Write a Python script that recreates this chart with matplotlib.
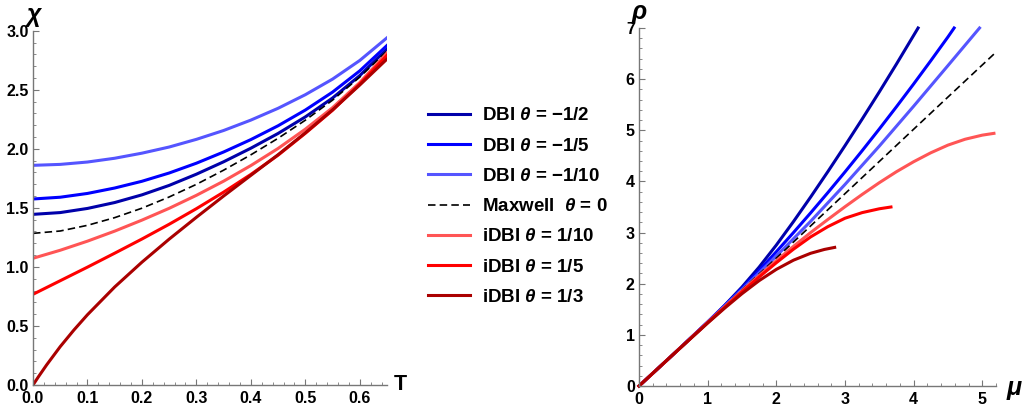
import matplotlib
matplotlib.use("Agg")
import matplotlib.pyplot as plt
from matplotlib.ticker import MultipleLocator

plt.rcParams['font.family'] = ['Liberation Sans', 'DejaVu Sans']
plt.rcParams['font.weight'] = 'bold'
plt.rcParams['mathtext.fontset'] = 'custom'
plt.rcParams['mathtext.it'] = 'Liberation Sans:italic:bold'
plt.rcParams['mathtext.rm'] = 'Liberation Sans:bold'
plt.rcParams['mathtext.bf'] = 'Liberation Sans:bold'

# ---- left panel: chi(T) ----
T = [0.0, 0.05, 0.1, 0.15, 0.2, 0.25, 0.3, 0.35, 0.4, 0.45, 0.5, 0.55, 0.6, 0.65]
chi_dbi_m2 = [1.445, 1.460, 1.495, 1.545, 1.610, 1.690, 1.785, 1.890, 2.005, 2.130, 2.270, 2.430, 2.620, 2.845]
chi_dbi_m5 = [1.575, 1.590, 1.622, 1.668, 1.725, 1.795, 1.878, 1.973, 2.078, 2.195, 2.328, 2.480, 2.660, 2.875]
chi_dbi_m10 = [1.860, 1.868, 1.888, 1.920, 1.963, 2.015, 2.080, 2.155, 2.243, 2.343, 2.458, 2.590, 2.748, 2.940]
chi_maxwell = [1.284, 1.304, 1.352, 1.417, 1.497, 1.592, 1.699, 1.819, 1.949, 2.089, 2.242, 2.412, 2.607, 2.829]
chi_idbi_10 = [1.073, 1.141, 1.218, 1.303, 1.396, 1.496, 1.606, 1.726, 1.858, 2.003, 2.166, 2.348, 2.561, 2.811]
chi_idbi_5 = [0.768, 0.883, 0.998, 1.116, 1.236, 1.361, 1.493, 1.633, 1.783, 1.946, 2.131, 2.326, 2.548, 2.791]
T_idbi_3 = [0.0, 0.01, 0.025, 0.05, 0.075, 0.1, 0.15, 0.2, 0.25, 0.3, 0.35, 0.4, 0.45, 0.5, 0.55, 0.6, 0.65]
chi_idbi_3 = [0.0, 0.07, 0.17, 0.325, 0.465, 0.595, 0.83, 1.04, 1.235, 1.42, 1.60, 1.775, 1.95, 2.135, 2.33, 2.54, 2.76]

# ---- right panel: rho(mu) ----
mu_dbi_m2 = [0, 0.5, 1.0, 1.25, 1.5, 1.75, 2.0, 2.25, 2.5, 2.75, 3.0, 3.25, 3.5, 3.75, 4.065]
rho_dbi_m2 = [0, 0.62, 1.25, 1.58, 1.935, 2.325, 2.755, 3.215, 3.695, 4.19, 4.698, 5.218, 5.75, 6.295, 7.0]
mu_dbi_m5 = [0, 0.5, 1.0, 1.25, 1.5, 1.75, 2.0, 2.25, 2.5, 2.75, 3.0, 3.25, 3.5, 3.75, 4.0, 4.25, 4.5, 4.59]
rho_dbi_m5 = [0, 0.62, 1.25, 1.575, 1.91, 2.26, 2.625, 3.0, 3.385, 3.78, 4.185, 4.6, 5.025, 5.46, 5.905, 6.36, 6.825, 7.0]
mu_dbi_m10 = [0, 0.5, 1.0, 1.5, 2.0, 2.5, 3.0, 3.5, 4.0, 4.5, 4.96]
rho_dbi_m10 = [0, 0.62, 1.25, 1.885, 2.54, 3.22, 3.94, 4.69, 5.47, 6.265, 7.0]
mu_maxwell = [0, 0.5, 1.0, 1.5, 2.0, 2.5, 3.0, 3.5, 4.0, 4.5, 5.17]
rho_maxwell = [0, 0.62, 1.25, 1.88, 2.50, 3.13, 3.76, 4.39, 5.02, 5.65, 6.49]
mu_idbi_10 = [0, 0.5, 1.0, 1.5, 1.75, 2.0, 2.25, 2.5, 2.75, 3.0, 3.25, 3.5, 3.75, 4.0, 4.25, 4.5, 4.75, 5.0, 5.17]
rho_idbi_10 = [0, 0.62, 1.24, 1.86, 2.16, 2.45, 2.73, 3.0, 3.255, 3.505, 3.745, 3.975, 4.19, 4.385, 4.56, 4.71, 4.825, 4.905, 4.94]
mu_idbi_5 = [0, 0.5, 1.0, 1.5, 1.75, 2.0, 2.25, 2.5, 2.75, 3.0, 3.25, 3.5, 3.67]
rho_idbi_5 = [0, 0.62, 1.24, 1.84, 2.13, 2.41, 2.675, 2.915, 3.115, 3.28, 3.39, 3.465, 3.50]
mu_idbi_3 = [0, 0.5, 1.0, 1.25, 1.5, 1.75, 2.0, 2.25, 2.5, 2.7, 2.85]
rho_idbi_3 = [0, 0.62, 1.23, 1.525, 1.805, 2.06, 2.28, 2.46, 2.595, 2.67, 2.71]

labels = ['DBI $\\theta$ = \u22121/2', 'DBI $\\theta$ = \u22121/5', 'DBI $\\theta$ = \u22121/10',
          'Maxwell  $\\theta$ = 0', 'iDBI $\\theta$ = 1/10', 'iDBI $\\theta$ = 1/5', 'iDBI $\\theta$ = 1/3']
colors = ['#0000AA', '#0000FF', '#5555FF', 'black', '#FF5555', '#FF0000', '#AA0000']

left = [(T, chi_dbi_m2), (T, chi_dbi_m5), (T, chi_dbi_m10), (T, chi_maxwell),
        (T, chi_idbi_10), (T, chi_idbi_5), (T_idbi_3, chi_idbi_3)]
right = [(mu_dbi_m2, rho_dbi_m2), (mu_dbi_m5, rho_dbi_m5), (mu_dbi_m10, rho_dbi_m10),
         (mu_maxwell, rho_maxwell), (mu_idbi_10, rho_idbi_10), (mu_idbi_5, rho_idbi_5),
         (mu_idbi_3, rho_idbi_3)]

fig = plt.figure(figsize=(10.25, 4.12), dpi=100)
W, H = 1025, 412
ax1 = fig.add_axes([33 / W, 1 - 385 / H, (387 - 33) / W, (385 - 30.7) / H])
ax2 = fig.add_axes([639 / W, 1 - 386 / H, (996 - 639) / W, (386 - 28) / H])

handles = []
for (x, y), c, lab in zip(left, colors, labels):
    if c == 'black':
        h, = ax1.plot(x, y, color=c, lw=1.2, dashes=(4.5, 2.5), label=lab)
    else:
        h, = ax1.plot(x, y, color=c, lw=2.2, label=lab, solid_joinstyle='round')
    handles.append(h)
for (x, y), c in zip(right, colors):
    if c == 'black':
        ax2.plot(x, y, color=c, lw=1.2, dashes=(4.5, 2.5), clip_on=False)
    else:
        ax2.plot(x, y, color=c, lw=2.2, clip_on=False, solid_joinstyle='round')

ax1.set_xlim(0, 0.65)
ax1.set_ylim(0, 3.0)
ax1.xaxis.set_major_locator(MultipleLocator(0.1))
ax1.xaxis.set_minor_locator(MultipleLocator(0.02))
ax1.yaxis.set_major_locator(MultipleLocator(0.5))
ax1.yaxis.set_minor_locator(MultipleLocator(0.1))
ax1.xaxis.set_major_formatter(plt.FuncFormatter(lambda v, p: '%.1f' % v))
ax1.yaxis.set_major_formatter(plt.FuncFormatter(lambda v, p: '%.1f' % v))

ax2.set_xlim(0, 5.2)
ax2.set_ylim(0, 7)
ax2.xaxis.set_major_locator(MultipleLocator(1))
ax2.xaxis.set_minor_locator(MultipleLocator(0.2))
ax2.yaxis.set_major_locator(MultipleLocator(1))
ax2.yaxis.set_minor_locator(MultipleLocator(0.2))

for ax in (ax1, ax2):
    for s in ('top', 'right'):
        ax.spines[s].set_visible(False)
    for s in ('left', 'bottom'):
        ax.spines[s].set_color('#777777')
        ax.spines[s].set_linewidth(1.0)
    ax.tick_params(which='major', direction='in', length=4, width=0.8, color='#777777',
                   labelsize=11.5, pad=4)
    ax.tick_params(which='minor', direction='in', length=2.3, width=0.6, color='#777777')
    ax.tick_params(axis='y', pad=3)
    for lbl in ax.get_xticklabels() + ax.get_yticklabels():
        lbl.set_fontweight('bold')

ax1.text(0.0, 1.045, '\u03c7', transform=ax1.transAxes, ha='center', va='center',
         fontsize=18, fontweight='bold', fontstyle='italic')
ax1.text(1.037, 0.0, 'T', transform=ax1.transAxes, ha='center', va='center',
         fontsize=15.5, fontweight='bold')
ax2.text(0.0, 1.045, '\u03c1', transform=ax2.transAxes, ha='center', va='center',
         fontsize=18, fontweight='bold', fontstyle='italic')
ax2.text(1.05, -0.005, '\u03bc', transform=ax2.transAxes, ha='center', va='center',
         fontsize=18, fontweight='bold', fontstyle='italic')

fig.legend(handles=handles, loc='center left', bbox_to_anchor=(428 / W, 1 - 206.5 / H),
           frameon=False, fontsize=13.5, handlelength=2.24, handletextpad=0.64,
           labelspacing=0.7, borderpad=0, borderaxespad=0)

fig.savefig('out.png', dpi=100)
